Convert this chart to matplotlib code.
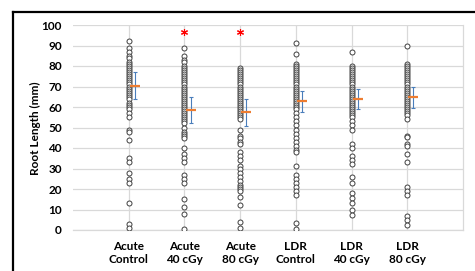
import matplotlib
matplotlib.use("Agg")
import matplotlib.pyplot as plt
from matplotlib.lines import Line2D

categories = ["Acute\nControl", "Acute\n40 cGy", "Acute\n80 cGy", "LDR\nControl", "LDR\n40 cGy", "LDR\n80 cGy"]

acute_control = [92, 89, 87, 85, 84, 82, 81, 80, 79, 78, 77, 76, 75, 74, 73, 72, 71, 70, 69, 68,
                 67, 66, 65, 64, 62, 61, 60, 59, 57, 55, 49, 48, 44, 35, 33, 28, 25, 23, 13, 3, 1]
acute_40 = [89, 85, 83, 82, 80, 79, 78, 77, 76, 75, 74, 73, 72, 71, 70, 69, 68, 67, 66, 65, 64, 63,
            62, 61, 60, 59, 58, 57, 56, 55, 54, 53, 52, 50, 48, 47, 46, 45, 40, 37, 35, 33, 27, 25,
            23, 15, 11, 8, 0.5]
acute_80 = [79, 78, 77, 76, 75, 74, 73, 72, 71, 70, 69, 68, 67, 66, 65, 64, 63, 62, 61, 60, 59, 58,
            57, 56, 55, 54, 49, 46, 45, 43, 42, 38, 36, 34, 31, 30, 28, 26, 24, 22, 21, 20, 19, 16,
            12, 4, 1]
ldr_control = [91, 86, 81, 80, 79, 78, 77, 76, 75, 74, 73, 72, 71, 70, 69, 68, 67, 66, 65, 64, 63,
               62, 61, 60, 59, 57, 55, 53, 51, 49, 47, 45, 43, 41, 39, 38, 31, 27, 25, 23, 21, 19,
               17, 3.5, 0.5]
ldr_40 = [87, 80, 79, 78, 77, 76, 75, 74, 73, 72, 71, 70, 69, 68, 67, 66, 65, 64, 63, 62, 61, 60,
          59, 58, 57, 56, 55, 53, 51, 49, 42, 40, 36, 34, 32, 26, 23, 18, 15.5, 13, 10, 7.5]
ldr_80 = [90, 81, 80, 79, 78, 77, 76, 75, 74, 73, 72, 71, 70, 69, 68, 67, 66, 65, 64, 63, 62, 61,
          60, 59, 58, 57, 56, 54, 46, 45.5, 42, 41, 37, 33, 21, 19, 17, 7, 5, 2.5]

groups = [acute_control, acute_40, acute_80, ldr_control, ldr_40, ldr_80]
means = [70.3, 58.5, 57.4, 63.0, 64.0, 64.7]
err_low = [63.9, 52.0, 50.9, 57.7, 59.0, 59.3]
err_high = [77.0, 65.0, 63.9, 68.0, 69.0, 70.0]
significant = [False, True, True, False, False, False]
star_y = 96.7

y_ticks = list(range(0, 101, 10))

fig = plt.figure(figsize=(4.75, 2.71), dpi=100)
ax = fig.add_axes([73 / 475, 1 - 230 / 271, (463 - 73) / 475, (230 - 25) / 271])

font = dict(family="Lato", weight="bold")

for i, vals in enumerate(groups):
    x = i + 1
    ax.plot([x] * len(vals), vals, linestyle="none", marker="o", markersize=3.6,
            markerfacecolor="white", markeredgecolor="#404040", markeredgewidth=0.7, zorder=3)
    m = means[i]
    ax.errorbar([x + 0.11], [m], yerr=[[m - err_low[i]], [err_high[i] - m]], fmt="none",
                ecolor="#4A7EBB", elinewidth=0.8, capsize=1.6, capthick=0.8, zorder=4)
    ax.plot([x + 0.11], [m], linestyle="none", marker="_", markersize=6.5,
            markeredgewidth=1.6, color="#ED7D31", zorder=5)
    if significant[i]:
        ax.plot([x], [star_y], linestyle="none", marker=(6, 2, 0), markersize=5,
                markeredgewidth=0.8, color="#FF0000", zorder=5)

ax.set_xlim(0, 7)
ax.set_ylim(0, 100)
ax.set_xticks(range(1, 7))
ax.set_xticklabels(categories, fontsize=8.5, linespacing=1.25, **font)
ax.set_yticks(y_ticks)
ax.set_yticklabels([str(t) for t in y_ticks], fontsize=8.5, **font)
ax.tick_params(axis="both", length=0)
ax.tick_params(axis="y", pad=8)
ax.tick_params(axis="x", pad=8)
ax.grid(True, color="#D9D9D9", linewidth=0.9, zorder=0)
ax.set_axisbelow(True)
for s in ["left", "top"]:
    ax.spines[s].set_visible(False)
for s in ["right", "bottom"]:
    ax.spines[s].set_color("#D9D9D9")
    ax.spines[s].set_linewidth(0.9)

fig.text(35 / 475, 1 - 128 / 271, "Root Length (mm)", rotation=90, ha="center", va="center",
         fontsize=8.5, **font)

fig.add_artist(Line2D([13 / 475, 13 / 475], [0, 1 - 12 / 271], color="black", linewidth=1.6,
                      transform=fig.transFigure))
fig.add_artist(Line2D([13 / 475, 1], [1 - 12 / 271, 1 - 12 / 271], color="black", linewidth=1.6,
                      transform=fig.transFigure))

fig.savefig("out.png", dpi=100)
